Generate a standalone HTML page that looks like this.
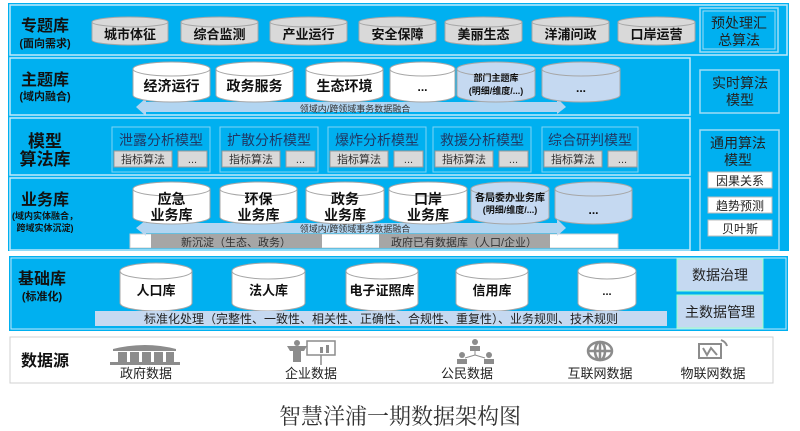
<!DOCTYPE html>
<html><head><meta charset="utf-8"><style>
html,body{margin:0;padding:0;background:#fff;}
svg{display:block;font-family:"Liberation Sans","Noto Sans CJK SC",sans-serif;}
.b{font-weight:bold;}
</style></head><body>
<svg width="800" height="431" viewBox="0 0 800 431" xmlns="http://www.w3.org/2000/svg">
<rect x="8" y="3" width="781" height="248" fill="#00b0f0"/>
<rect x="10" y="5" width="777" height="50" fill="none" stroke="#bfe9fb" stroke-width="1.5"/>
<rect x="10" y="58" width="680" height="57" fill="none" stroke="#bfe9fb" stroke-width="1.5"/>
<rect x="10" y="118" width="680" height="57" fill="none" stroke="#bfe9fb" stroke-width="1.5"/>
<rect x="10" y="178" width="680" height="72" fill="none" stroke="#bfe9fb" stroke-width="1.5"/>

<g fill="#111" text-anchor="middle" class="b">
<text x="45" y="31" font-size="16">专题库</text>
<text x="45" y="47" font-size="11">(面向需求)</text>
<text x="45" y="85" font-size="16">主题库</text>
<text x="45" y="100" font-size="11">(域内融合)</text>
<text x="45" y="147" font-size="17">模型</text>
<text x="45" y="165" font-size="17">算法库</text>
<text x="45" y="205" font-size="16">业务库</text>
<text x="45" y="219" font-size="9">(域内实体融合，</text>
<text x="45" y="231" font-size="9">跨域实体沉淀)</text>
</g>

<g fill="#d9d9d9" stroke="#a6a6a6" stroke-width="1">
<path d="M92,22V40A38,5 0 0 0 168,40V22"/><ellipse cx="130" cy="22" rx="38" ry="5"/>
<path d="M181,22V40A38.5,5 0 0 0 258,40V22"/><ellipse cx="219.5" cy="22" rx="38.5" ry="5"/>
<path d="M270,22V40A38.5,5 0 0 0 347,40V22"/><ellipse cx="308.5" cy="22" rx="38.5" ry="5"/>
<path d="M359,22V40A38.5,5 0 0 0 436,40V22"/><ellipse cx="397.5" cy="22" rx="38.5" ry="5"/>
<path d="M445,22V40A38.5,5 0 0 0 522,40V22"/><ellipse cx="483.5" cy="22" rx="38.5" ry="5"/>
<path d="M532,22V40A38.5,5 0 0 0 609,40V22"/><ellipse cx="570.5" cy="22" rx="38.5" ry="5"/>
<path d="M618,22V40A38.5,5 0 0 0 695,40V22"/><ellipse cx="656.5" cy="22" rx="38.5" ry="5"/>
</g>
<g fill="#111" text-anchor="middle" font-size="13" class="b">
<text x="130" y="39">城市体征</text><text x="219.5" y="39">综合监测</text><text x="308.5" y="39">产业运行</text>
<text x="397.5" y="39">安全保障</text><text x="483.5" y="39">美丽生态</text><text x="570.5" y="39">洋浦问政</text><text x="656.5" y="39">口岸运营</text>
</g>

<rect x="700" y="8" width="78" height="44" fill="none" stroke="#9fdcf5" stroke-width="1.5"/>
<rect x="703" y="11" width="72" height="38" fill="none" stroke="#9fdcf5" stroke-width="1"/>
<rect x="700" y="70" width="79" height="43" fill="none" stroke="#9fdcf5" stroke-width="1.5"/>
<rect x="700" y="130" width="79" height="120" fill="none" stroke="#9fdcf5" stroke-width="1.5"/>
<g fill="#222" text-anchor="middle" font-size="14">
<text x="739" y="28">预处理汇</text><text x="739" y="45">总算法</text>
<text x="740" y="88">实时算法</text><text x="740" y="105">模型</text>
<text x="738" y="148">通用算法</text><text x="738" y="165">模型</text>
</g>
<g fill="#fff" stroke="#bbb">
<rect x="708" y="172" width="64" height="16"/><rect x="708" y="197" width="64" height="16"/><rect x="708" y="220" width="64" height="16"/>
</g>
<g fill="#222" text-anchor="middle" font-size="12">
<text x="740" y="185">因果关系</text><text x="740" y="210">趋势预测</text><text x="740" y="233">贝叶斯</text>
</g>

<polygon points="136,107 146,98 146,102 557,102 557,98 566,107 557,114 557,112 146,112 146,116" fill="#c5d9f1" opacity="0.9"/>
<g stroke="#a6a6a6" stroke-width="1">
<path d="M133,69V95A38.5,7 0 0 0 210,95V69" fill="#fff"/><ellipse cx="171.5" cy="69" rx="38.5" ry="7" fill="#fff"/>
<path d="M216,69V95A38.5,7 0 0 0 293,95V69" fill="#fff"/><ellipse cx="254.5" cy="69" rx="38.5" ry="7" fill="#fff"/>
<path d="M306,69V95A38.5,7 0 0 0 383,95V69" fill="#fff"/><ellipse cx="344.5" cy="69" rx="38.5" ry="7" fill="#fff"/>
<path d="M390,69V95A32.5,7 0 0 0 455,95V69" fill="#fff"/><ellipse cx="422.5" cy="69" rx="32.5" ry="7" fill="#fff"/>
<path d="M457,69V95A39,7 0 0 0 535,95V69" fill="#c5d9f1"/><ellipse cx="496" cy="69" rx="39" ry="7" fill="#c5d9f1"/>
<path d="M542,69V95A39,7 0 0 0 620,95V69" fill="#c5d9f1"/><ellipse cx="581" cy="69" rx="39" ry="7" fill="#c5d9f1"/>
</g>
<g fill="#111" text-anchor="middle" class="b">
<text x="171.5" y="91" font-size="14">经济运行</text><text x="254.5" y="91" font-size="14">政务服务</text><text x="344.5" y="91" font-size="14">生态环境</text>
<text x="422.5" y="91" font-size="12">...</text>
<text x="496" y="81" font-size="9">部门主题库</text><text x="496" y="94" font-size="9">(明细/维度/...)</text>
<text x="581" y="92" font-size="12">...</text>
</g>
<text x="355" y="112" font-size="9" fill="#333" text-anchor="middle">领域内/跨领域事务数据融合</text>

<g fill="none" stroke="#7fd3f5" stroke-width="1">
<rect x="112" y="127" width="98" height="45"/><rect x="220" y="127" width="98" height="45"/><rect x="328" y="127" width="98" height="45"/><rect x="433" y="127" width="98" height="45"/><rect x="542" y="127" width="96" height="45"/>
</g>
<g fill="#d9d9d9" stroke="#999">
<rect x="114" y="151" width="58" height="16"/><rect x="178" y="151" width="29" height="16"/>
<rect x="222" y="151" width="58" height="16"/><rect x="286" y="151" width="29" height="16"/>
<rect x="330" y="151" width="58" height="16"/><rect x="394" y="151" width="29" height="16"/>
<rect x="435" y="151" width="58" height="16"/><rect x="499" y="151" width="29" height="16"/>
<rect x="544" y="151" width="58" height="16"/><rect x="608" y="151" width="29" height="16"/>
</g>
<g fill="#1f3864" text-anchor="middle" font-size="14">
<text x="161" y="145">泄露分析模型</text><text x="269" y="145">扩散分析模型</text><text x="377" y="145">爆炸分析模型</text><text x="482" y="145">救援分析模型</text><text x="590" y="145">综合研判模型</text>
</g>
<g fill="#333" text-anchor="middle" font-size="11">
<text x="143" y="163">指标算法</text><text x="192.5" y="163">...</text>
<text x="251" y="163">指标算法</text><text x="300.5" y="163">...</text>
<text x="359" y="163">指标算法</text><text x="408.5" y="163">...</text>
<text x="464" y="163">指标算法</text><text x="513.5" y="163">...</text>
<text x="573" y="163">指标算法</text><text x="622.5" y="163">...</text>
</g>

<rect x="130" y="234" width="488" height="14" fill="#fff" stroke="#ccc"/>
<rect x="151" y="234" width="171" height="14" fill="#a6a6a6"/>
<rect x="379" y="234" width="171" height="14" fill="#a6a6a6"/>
<polygon points="136,228 146,220 146,223 557,223 557,219 566,228 557,236 557,233 146,233 146,236" fill="#c5d9f1" opacity="0.9"/>
<g stroke="#a6a6a6" stroke-width="1">
<path d="M133,189V217A38.5,7 0 0 0 210,217V189" fill="#fff"/><ellipse cx="171.5" cy="189" rx="38.5" ry="7" fill="#fff"/>
<path d="M220,189V217A38.5,7 0 0 0 297,217V189" fill="#fff"/><ellipse cx="258.5" cy="189" rx="38.5" ry="7" fill="#fff"/>
<path d="M306,189V217A39,7 0 0 0 384,217V189" fill="#fff"/><ellipse cx="345" cy="189" rx="39" ry="7" fill="#fff"/>
<path d="M389,189V217A39,7 0 0 0 467,217V189" fill="#fff"/><ellipse cx="428" cy="189" rx="39" ry="7" fill="#fff"/>
<path d="M471,189V217A39,7 0 0 0 549,217V189" fill="#c5d9f1"/><ellipse cx="510" cy="189" rx="39" ry="7" fill="#c5d9f1"/>
<path d="M555,189V217A38.5,7 0 0 0 632,217V189" fill="#c5d9f1"/><ellipse cx="593.5" cy="189" rx="38.5" ry="7" fill="#c5d9f1"/>
</g>
<g fill="#111" text-anchor="middle" class="b" font-size="14">
<text x="171.5" y="204">应急</text><text x="171.5" y="220">业务库</text>
<text x="258.5" y="204">环保</text><text x="258.5" y="220">业务库</text>
<text x="345" y="204">政务</text><text x="345" y="220">业务库</text>
<text x="428" y="204">口岸</text><text x="428" y="220">业务库</text>
<text x="510" y="201" font-size="10">各局委办业务库</text><text x="510" y="213" font-size="9">(明细/维度/...)</text>
<text x="593.5" y="214" font-size="12">...</text>
</g>
<text x="355" y="232" font-size="9" fill="#333" text-anchor="middle">领域内/跨领域事务数据融合</text>
<text x="236" y="246" font-size="11" fill="#333" text-anchor="middle">新沉淀（生态、政务）</text>
<text x="464" y="246" font-size="11" fill="#333" text-anchor="middle">政府已有数据库（人口/企业）</text>

<rect x="9" y="256" width="779" height="75" fill="#00b0f0"/>
<rect x="11" y="258" width="775" height="71" fill="none" stroke="#bfe9fb"/>
<g fill="#111" text-anchor="middle" class="b">
<text x="42" y="284" font-size="16">基础库</text><text x="42" y="300" font-size="11">(标准化)</text>
</g>
<g stroke="#a6a6a6" fill="#fff">
<path d="M120,271V303A36,8 0 0 0 192,303V271"/><ellipse cx="156" cy="271" rx="36" ry="8"/>
<path d="M232,271V303A36.5,8 0 0 0 305,303V271"/><ellipse cx="268.5" cy="271" rx="36.5" ry="8"/>
<path d="M346,271V303A36,8 0 0 0 418,303V271"/><ellipse cx="382" cy="271" rx="36" ry="8"/>
<path d="M456,271V303A36,8 0 0 0 528,303V271"/><ellipse cx="492" cy="271" rx="36" ry="8"/>
<path d="M578,271V303A29,8 0 0 0 636,303V271"/><ellipse cx="607" cy="271" rx="29" ry="8"/>
</g>
<g fill="#111" text-anchor="middle" class="b" font-size="13">
<text x="156" y="295">人口库</text><text x="268.5" y="295">法人库</text><text x="382" y="295">电子证照库</text><text x="492" y="295">信用库</text><text x="607" y="295" font-size="11">...</text>
</g>
<rect x="95" y="311" width="572" height="15" fill="#c5d9f1"/>
<text x="381" y="323" font-size="12" fill="#222" text-anchor="middle">标准化处理（完整性、一致性、相关性、正确性、合规性、重复性）、业务规则、技术规则</text>
<rect x="677" y="259" width="86" height="32" fill="#c5d9f1" stroke="#9fc"/>
<rect x="677" y="295" width="86" height="33" fill="#c5d9f1" stroke="#9fc"/>
<text x="720" y="280" font-size="14" fill="#222" text-anchor="middle">数据治理</text>
<text x="720" y="317" font-size="14" fill="#222" text-anchor="middle">主数据管理</text>

<rect x="10" y="337" width="763" height="46" fill="#fff" stroke="#d0d0d0"/>
<text x="45" y="366" font-size="16" fill="#111" text-anchor="middle" class="b">数据源</text>
<g fill="#8c8c8c">
<path d="M113,349 Q145,341 176,349 Z"/><rect x="113" y="349" width="63" height="2"/>
<rect x="118" y="352" width="9" height="10"/><rect x="130" y="352" width="9" height="10"/><rect x="142" y="352" width="9" height="10"/><rect x="154" y="352" width="9" height="10"/><rect x="166" y="352" width="8" height="10"/>
<rect x="110" y="362" width="70" height="3"/>
</g>
<g fill="#8c8c8c">
<circle cx="297" cy="343" r="3"/><path d="M287,346 L307,346 L304,351 L301,351 L301,362 L293,362 L293,351 L290,351 Z"/>
<rect x="307" y="341" width="28" height="14" fill="none" stroke="#8c8c8c" stroke-width="1.5"/>
<rect x="320" y="347" width="3" height="6"/><rect x="326" y="345" width="3" height="8"/><line x1="321" y1="355" x2="321" y2="365" stroke="#8c8c8c" stroke-width="1.5"/>
</g>
<g fill="#8c8c8c">
<circle cx="475" cy="342" r="3"/><rect x="470" y="346" width="10" height="5"/>
<circle cx="462" cy="355" r="3"/><rect x="457" y="359" width="10" height="5"/>
<circle cx="489" cy="355" r="3"/><rect x="484" y="359" width="10" height="5"/>
<path d="M475,351 L475,355 M475,355 L465,358 M475,355 L485,358" stroke="#8c8c8c" fill="none"/>
</g>
<g fill="none" stroke="#8c8c8c" stroke-width="2.5">
<ellipse cx="600" cy="351" rx="12" ry="9"/><line x1="588" y1="351" x2="612" y2="351"/><line x1="600" y1="342" x2="600" y2="360"/><ellipse cx="600" cy="351" rx="5" ry="9"/>
</g>
<g fill="none" stroke="#8c8c8c" stroke-width="2">
<rect x="699" y="344" width="22" height="14"/><path d="M703,348 L707,355 L711,348 L717,355"/><path d="M721,340 Q726,342 727,346"/>
</g>
<g fill="#222" text-anchor="middle" font-size="13">
<text x="146" y="378">政府数据</text><text x="311" y="378">企业数据</text><text x="467" y="378">公民数据</text><text x="600" y="378">互联网数据</text><text x="713" y="378">物联网数据</text>
</g>

<text x="400" y="424" font-size="22" fill="#333" text-anchor="middle" font-family="Liberation Serif, Noto Serif CJK SC, serif">智慧洋浦一期数据架构图</text>
</svg>
</body></html>
